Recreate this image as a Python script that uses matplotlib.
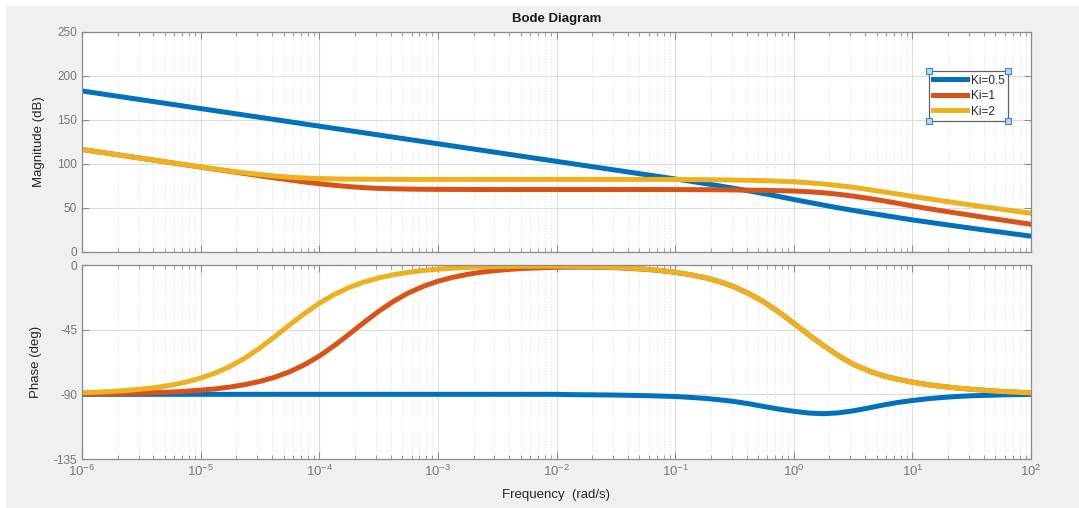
import numpy as np
import matplotlib
matplotlib.use("Agg")
import matplotlib.pyplot as plt
from matplotlib.patches import Rectangle
from matplotlib.ticker import LogLocator, NullFormatter, FixedLocator

plt.rcParams['font.family'] = ['Liberation Sans', 'DejaVu Sans']
plt.rcParams['axes.unicode_minus'] = False
plt.rcParams['mathtext.fontset'] = 'custom'
plt.rcParams['mathtext.rm'] = 'Liberation Sans'
plt.rcParams['mathtext.it'] = 'Liberation Sans'
plt.rcParams['mathtext.bf'] = 'Liberation Sans:bold'

# частоты: от 1e-6 до 1e2 рад/с, шаг 1/8 декады
freq = np.logspace(-6, 2, 65)

labels = ['Ki=0.5', 'Ki=1', 'Ki=2']
colors = ['#0072BD', '#D95319', '#EDB120']

# АЧХ, дБ
mag_k05 = [183, 180.5, 178, 175.5, 173, 170.5, 168, 165.5, 163, 160.5, 158,
           155.5, 153, 150.5, 148, 145.5, 143, 140.5, 138, 135.5, 133, 130.5,
           128, 125.5, 123, 120.5, 118, 115.5, 113, 110.5, 108, 105.5, 103,
           100.5, 98, 95.5, 93, 90.5, 88, 85.5, 83,
           80.5, 77.8, 75.1, 72.3, 69.4, 66.3, 63.1, 59.7, 56.5, 53.3, 50.2,
           47.3, 44.5, 41.8, 39.1, 36.5, 34.1, 31.7, 29.3, 27, 24.7, 22.5,
           20.2, 18]
mag_k1 = [116.5, 114.0, 111.5, 109.0, 106.5, 104.0, 101.5, 99.0, 96.5, 94.0,
          91.5, 89.1, 86.6, 84.2, 81.9, 79.6, 77.6, 75.8, 74.3, 73.1, 72.3,
          71.8, 71.5, 71.3, 71.15, 71.1, 71.05,
          71, 71, 71, 71, 71, 71, 71, 71, 71, 71, 71, 71, 71,
          70.9, 70.85, 70.8, 70.7, 70.5, 70.3, 70.0, 69.7, 69.3, 68.5, 67.3,
          65.6, 63.5, 61.0, 58.3, 55.4, 52.3, 49.5, 46.8, 44.2, 41.6, 39.0,
          36.5, 34.0, 31.5]
mag_k2 = [116.5, 114.0, 111.5, 109.0, 106.5, 104.0, 101.6, 99.1, 96.7, 94.3,
          92.0, 89.9, 88.0, 86.3, 85.0, 84.1, 83.5, 83.1, 82.8, 82.7, 82.6,
          82.55,
          82.5, 82.5, 82.5, 82.5, 82.5, 82.5, 82.5, 82.5, 82.5, 82.5, 82.5,
          82.5, 82.5, 82.5, 82.5, 82.5, 82.5, 82.5,
          82.4, 82.3, 82.2, 82.0, 81.8, 81.5, 81.1, 80.5, 79.8, 78.7, 77.3,
          75.5, 73.5, 71.1, 68.5, 65.9, 63.2, 60.7, 58.2, 55.7, 53.3, 50.9,
          48.6, 46.3, 44]

# ФЧХ, градусы
ph_k05 = [-90] * 33 + [
    -90.2, -90.3, -90.4, -90.5, -90.7, -90.9, -91.2, -91.5, -92.1, -92.8,
    -93.8, -95, -96.6, -98.5, -100.3, -101.8, -103, -103.5, -102.9, -101.5,
    -99.6, -97.5, -95.7, -94.3, -93.1, -92.2, -91.5, -91, -90.7, -90.4,
    -90.2, -90.1]
ph_k1 = [-89.7, -89.6, -89.5, -89.3, -89.1, -88.8, -88.4, -87.85, -87.1,
         -86.2, -84.9, -83.2, -81.0, -78.1, -74.3, -69.4, -63.4, -56.2,
         -48.3, -40.1, -32.3, -25.3, -19.5, -14.9, -11.3,
         -8.6, -6.5, -4.9, -3.8, -2.9, -2.3, -1.9, -1.6, -1.5, -1.5, -1.6,
         -1.9, -2.4, -3.0, -3.9, -5.1, -6.7, -8.8, -11.6, -15.25,
         -20.0, -25.8, -32.8, -40.5, -48.5, -56, -63, -69, -73.5, -77, -79.5,
         -81.5, -83.2, -84.5, -85.6, -86.5, -87.3, -88, -88.5, -89]
ph_k2 = [-88.85, -88.5, -88.0, -87.3, -86.4, -85.2, -83.6, -81.5, -78.7,
         -75.1, -70.5, -64.7, -57.7, -49.9, -41.7, -33.8, -26.6, -20.6,
         -15.7, -11.9, -9.0, -6.8, -5.1, -3.8,
         -2.9, -2.2, -1.7, -1.3, -1.1, -0.9, -0.8, -0.8, -0.8, -0.9, -1.0,
         -1.3, -1.7, -2.15, -2.85, -3.75,
         -5.0, -6.6, -8.7, -11.5, -15.2, -20.0, -25.8, -32.8, -40.5, -48.5,
         -56, -63, -69, -73.5, -77, -79.5, -81.5, -83.2, -84.5, -85.6, -86.5,
         -87.3, -88, -88.5, -89]

mags = [mag_k05, mag_k1, mag_k2]
phases = [ph_k05, ph_k1, ph_k2]

W, H = 1079, 508
fig = plt.figure(figsize=(W / 100, H / 100), dpi=100, facecolor='white')
# серый фон окна
fig.patches.append(Rectangle((6 / W, 0), 1, 1 - 6 / H, transform=fig.transFigure,
                             facecolor='#f0f0f0', edgecolor='none', zorder=-10))

left, right = 82 / W, 1031 / W
ax1 = fig.add_axes([left, 1 - 252 / H, right - left, 220 / H])
ax2 = fig.add_axes([left, 1 - 459 / H, right - left, 194 / H], sharex=ax1)

for m, c, lb in zip(mags, colors, labels):
    ax1.plot(freq, m, color=c, lw=3.6, label=lb, solid_joinstyle='round')
for p, c in zip(phases, colors):
    ax2.plot(freq, p, color=c, lw=3.6, solid_joinstyle='round')

spine_col = '#8a8a8a'
for ax in (ax1, ax2):
    ax.set_facecolor('white')
    ax.set_xscale('log')
    ax.set_xlim(1e-6, 1e2)
    ax.xaxis.set_major_locator(LogLocator(base=10, numticks=20))
    ax.xaxis.set_minor_locator(LogLocator(base=10, subs=np.arange(2, 10), numticks=20))
    ax.xaxis.set_minor_formatter(NullFormatter())
    ax.grid(True, which='major', color='#dcdcdc', lw=0.8)
    ax.grid(True, which='minor', axis='x', color='#dcdcdc', lw=0.7, ls=(0, (1, 2)))
    ax.tick_params(which='both', direction='in', top=True, right=True,
                   color=spine_col, labelcolor='#777777', labelsize=8.5)
    ax.tick_params(axis='x', labelsize=9.5)
    ax.tick_params(which='major', length=5)
    ax.tick_params(which='minor', length=3)
    for s in ax.spines.values():
        s.set_color(spine_col)
        s.set_linewidth(0.9)
    ax.set_axisbelow(True)

ax1.set_ylim(0, 250)
ax1.yaxis.set_major_locator(FixedLocator([0, 50, 100, 150, 200, 250]))
ax1.tick_params(axis='x', labelbottom=False)
ax1.set_ylabel('Magnitude (dB)', fontsize=9.5, color='#262626')
ax1.yaxis.set_label_coords(-0.039, 0.5)
ax1.set_title('Bode Diagram', fontsize=9.5, fontweight='bold', color='#1a1a1a', pad=7)

ax2.set_ylim(-135, 0)
ax2.yaxis.set_major_locator(FixedLocator([-135, -90, -45, 0]))
ax2.set_ylabel('Phase (deg)', fontsize=9.5, color='#262626')
ax2.yaxis.set_label_coords(-0.042, 0.5)
ax2.set_xlabel('Frequency  (rad/s)', fontsize=9.5, color='#262626', labelpad=7)

leg = ax1.legend(loc='upper right', bbox_to_anchor=(1008 / W, 1 - 71 / H),
                 bbox_transform=fig.transFigure, borderaxespad=0, fontsize=8.5,
                 handlelength=2.9, handletextpad=0.3, labelspacing=0.3,
                 borderpad=0.3, fancybox=False, framealpha=1)
leg.get_frame().set_edgecolor('#606060')
leg.get_frame().set_linewidth(0.9)
for t in leg.get_texts():
    t.set_color('#262626')

# маркеры выделения по углам легенды
fig.canvas.draw()
bb = leg.get_window_extent().transformed(fig.transFigure.inverted())
for cx, cy in [(bb.x0, bb.y0), (bb.x1, bb.y0), (bb.x0, bb.y1), (bb.x1, bb.y1)]:
    fig.add_artist(plt.Line2D([cx], [cy], marker='s', markersize=4.5,
                              markerfacecolor='#b8d8f2', markeredgecolor='#3c86c8',
                              markeredgewidth=0.8, transform=fig.transFigure))

fig.savefig('out.png', dpi=100, facecolor=fig.get_facecolor())
